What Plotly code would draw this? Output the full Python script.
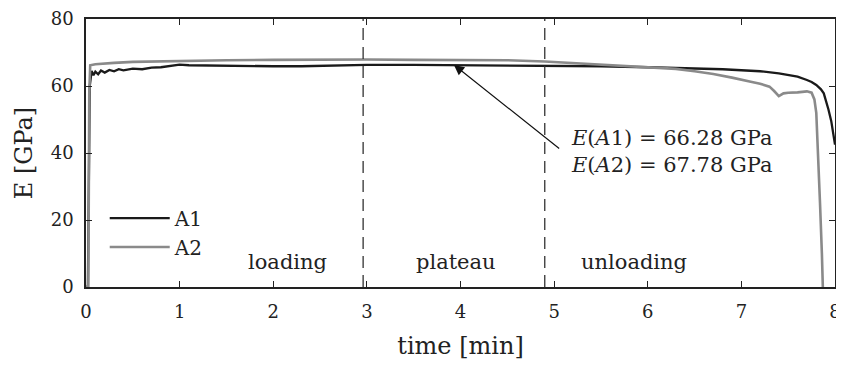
import plotly.graph_objects as go

# --- Data ---
t_a1 = [0.0, 0.02, 0.04, 0.06, 0.08, 0.10, 0.13, 0.16, 0.20, 0.25, 0.30, 0.35,
        0.40, 0.50, 0.60, 0.70, 0.80, 0.90, 1.00, 1.10, 1.30, 1.50, 1.80, 2.00,
        2.30, 2.60, 3.00, 3.50, 4.00, 4.50, 5.00, 5.50, 6.00, 6.50, 6.80, 7.00,
        7.20, 7.40, 7.50, 7.60, 7.70, 7.75, 7.80, 7.85, 7.88, 7.90, 7.93, 7.96,
        7.98, 8.00]
e_a1 = [0.0, 0.0, 60.0, 64.5, 63.2, 64.3, 63.5, 64.6, 64.0, 64.8, 64.4, 65.0,
        64.7, 65.2, 65.0, 65.5, 65.6, 65.9, 66.4, 66.2, 66.1, 66.0, 65.8, 65.9,
        65.9, 66.1, 66.3, 66.3, 66.2, 66.2, 66.1, 65.9, 65.6, 65.3, 65.0, 64.7,
        64.4, 63.8, 63.4, 62.8, 61.8, 61.2, 60.3, 59.0, 57.8, 56.0, 53.0, 49.5,
        46.0, 42.5]

t_a2 = [0.0, 0.025, 0.035, 0.045, 0.10, 0.20, 0.30, 0.50, 0.70, 1.00, 1.50,
        2.00, 2.50, 2.70, 3.00, 3.50, 4.00, 4.50, 4.90, 5.20, 5.50, 5.80, 6.00,
        6.30, 6.50, 6.70, 6.90, 7.00, 7.10, 7.20, 7.30, 7.35, 7.40, 7.45, 7.50,
        7.60, 7.70, 7.75, 7.78, 7.80, 7.82, 7.84, 7.86, 7.87]
e_a2 = [0.0, 0.0, 58.0, 66.2, 66.5, 66.8, 66.9, 67.2, 67.3, 67.6, 67.7,
        67.8, 67.9, 68.0, 67.9, 67.8, 67.8, 67.7, 67.3, 66.8, 66.3, 65.9, 65.6,
        65.1, 64.4, 63.6, 62.5, 62.0, 61.3, 60.7, 59.8, 58.5, 57.0, 57.8, 58.0,
        58.1, 58.4, 58.0, 56.0, 52.0, 40.0, 25.0, 10.0, 0.0]

phase_bounds = [2.96, 4.90]
phase_labels = ["loading", "plateau", "unloading"]
phase_label_x = [2.15, 3.95, 5.85]
phase_label_y = 7.5

x_ticks = [0, 1, 2, 3, 4, 5, 6, 7, 8]
y_ticks = [0, 20, 40, 60, 80]

arrow_tip = (3.93, 66.3)
arrow_tail = (5.07, 41.0)
result_text = ("<i>E</i>(<i>A</i>1)&nbsp;=&nbsp;66.28&nbsp;GPa<br>"
               "<i>E</i>(<i>A</i>2)&nbsp;=&nbsp;67.78&nbsp;GPa")

FONT = "DejaVu Serif"
INK = "#222222"
FS_TICK = 18
FS_TEXT = 21
FS_TITLE = 24

fig = go.Figure()

fig.add_trace(go.Scatter(x=t_a1, y=e_a1, mode="lines", name="A1",
                         line=dict(color="#1a1a1a", width=2.3)))
fig.add_trace(go.Scatter(x=t_a2, y=e_a2, mode="lines", name="A2",
                         line=dict(color="#8a8a8a", width=2.6)))

# phase boundaries
for xb in phase_bounds:
    fig.add_vline(x=xb, line=dict(color="#333333", width=1.3, dash="12px,7px"))

# phase labels
for lab, lx in zip(phase_labels, phase_label_x):
    fig.add_annotation(x=lx, y=phase_label_y, text=lab, showarrow=False,
                       xref="x", yref="y", font=dict(family=FONT, size=FS_TEXT, color=INK))

# arrow to the plateau value
fig.add_annotation(x=arrow_tip[0], y=arrow_tip[1], ax=arrow_tail[0], ay=arrow_tail[1],
                   xref="x", yref="y", axref="x", ayref="y", text="",
                   showarrow=True, arrowhead=2, arrowsize=1.7, arrowwidth=1.2,
                   arrowcolor="#111111")
fig.add_annotation(x=5.16, y=40.5, text=result_text, showarrow=False,
                   xref="x", yref="y", xanchor="left", yanchor="middle", align="left",
                   font=dict(family=FONT, size=FS_TEXT, color=INK))

axis_common = dict(showline=True, linecolor=INK, linewidth=1.6, mirror="ticks",
                   ticks="inside", ticklen=6, tickwidth=1.4, tickcolor=INK,
                   showgrid=False, zeroline=False, automargin=False,
                   ticklabeloverflow="allow",
                   tickfont=dict(family=FONT, size=FS_TICK, color=INK))

fig.update_xaxes(range=[0, 8], tickvals=x_ticks, ticklabelstandoff=8,
                 title=dict(text="time [min]", font=dict(family=FONT, size=FS_TITLE, color=INK),
                            standoff=16),
                 **axis_common)
fig.update_yaxes(range=[0, 80], tickvals=y_ticks, ticklabelstandoff=7,
                 title=dict(text="E [GPa]", font=dict(family=FONT, size=FS_TITLE, color=INK),
                            standoff=11),
                 **axis_common)

# the page adds an 8px body margin, so the figure is sized to fit the window
fig.update_layout(
    width=836, height=357,
    margin=dict(l=78, r=9, t=11, b=78),
    plot_bgcolor="white", paper_bgcolor="white",
    font=dict(family=FONT, color=INK),
    showlegend=True,
    legend=dict(x=0.025, y=0.33, xanchor="left", yanchor="top",
                bgcolor="rgba(0,0,0,0)", itemwidth=60,
                font=dict(family=FONT, size=20, color=INK), tracegroupgap=0),
)

fig.write_html("out.html")
